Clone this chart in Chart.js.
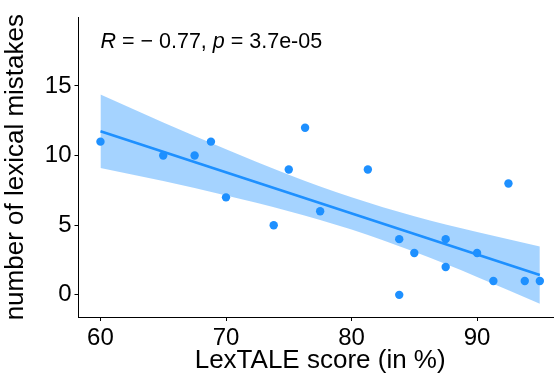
<!DOCTYPE html>
<html>
<head>
<meta charset="utf-8">
<script src="https://cdn.jsdelivr.net/npm/chart.js@4.4.1/dist/chart.umd.min.js"></script>
<style>
    html, body { margin: 0; padding: 0; background: #fff; overflow: hidden; }
    #wrap { width: 566px; height: 378px; }
</style>
</head>
<body>
<div id="wrap"><canvas id="lexChart" width="566" height="378"></canvas></div>
<script>

// ==========================================
// Data
// ==========================================

const lextaleScore = [60, 65, 67.5, 68.8, 70, 73.8, 75, 76.3, 77.5, 81.3,
                      83.8, 83.8, 85, 87.5, 87.5, 90, 91.3, 92.5, 93.8, 95];
const lexicalMistakes = [11, 10, 10, 11, 7, 5, 9, 12, 6, 9,
                         4, 0, 3, 4, 2, 3, 1, 8, 1, 1];

// fitted line ends
const fitX = [60, 95];
const fitY = [11.75, 1.42];

// 95% confidence band
const bandX = [60, 65, 70, 75, 80, 85, 90, 95];
const bandUpper = [14.38, 12.37, 10.45, 8.63, 7.01, 5.65, 4.51, 3.47];
const bandLower = [9.10, 8.17, 7.14, 6.01, 4.69, 3.09, 1.29, -0.63];

const xTicks = [60, 70, 80, 90];
const yTicks = [0, 5, 10, 15];

const corrR = "\u2212 0.77";
const corrP = "3.7e-05";
const corrLabelAt = [60, 18.94];

const FONT = "'Liberation Sans', Arial, sans-serif";
const BLUE = "#1e90ff";


function toPoints(xs, ys) {

    return xs.map((x, i) => ({ x: x, y: ys[i] }));

}


// ==========================================
// Correlation label
// ==========================================

const corrLabel = {

    id: "corrLabel",

    afterDatasetsDraw(chart) {

        const ctx = chart.ctx;
        let x = chart.scales.x.getPixelForValue(corrLabelAt[0]);
        const y = chart.scales.y.getPixelForValue(corrLabelAt[1]);

        const parts = [
            ["italic", "R"],
            ["normal", " = " + corrR + ", "],
            ["italic", "p"],
            ["normal", " = " + corrP]
        ];

        ctx.save();
        ctx.fillStyle = "#000";
        ctx.textBaseline = "top";
        ctx.textAlign = "left";

        parts.forEach(([style, text]) => {

            ctx.font = style + " 21.5px " + FONT;
            ctx.fillText(text, x, y);
            x += ctx.measureText(text).width;

        });

        ctx.restore();

    }

};


// ==========================================
// Chart
// ==========================================

function axisStyle(ticks, titleText) {

    return {

        type: "linear",

        afterBuildTicks: scale => {
            scale.ticks = ticks.map(v => ({ value: v }));
        },

        ticks: {
            color: "#000",
            font: { family: FONT, size: 24 },
            padding: 3
        },

        grid: {
            drawOnChartArea: false,
            drawTicks: true,
            tickLength: 4,
            color: "#000",
            lineWidth: 1
        },

        border: {
            display: true,
            color: "#000",
            width: 1
        },

        title: {
            display: true,
            text: titleText,
            color: "#000",
            font: { family: FONT, size: 26 },
            padding: { top: 0, bottom: 2 }
        }

    };

}

const xAxis = axisStyle(xTicks, "LexTALE score (in %)");
xAxis.min = 58.25;
xAxis.max = 96.75;
xAxis.afterFit = scale => { scale.height = 61; };

const yAxis = axisStyle(yTicks, "number of lexical mistakes");
yAxis.min = -1.59;
yAxis.max = 19.92;
yAxis.afterFit = scale => { scale.width = 78.5; };

new Chart(document.getElementById("lexChart"), {

    type: "scatter",

    data: {

        datasets: [

            {
                data: toPoints(lextaleScore, lexicalMistakes),
                backgroundColor: BLUE,
                borderWidth: 0,
                pointRadius: 4.2,
                order: 0
            },

            {
                data: toPoints(fitX, fitY),
                showLine: true,
                borderColor: BLUE,
                borderWidth: 2.6,
                pointRadius: 0,
                order: 1
            },

            {
                data: toPoints(bandX, bandLower),
                showLine: true,
                borderWidth: 0,
                pointRadius: 0,
                cubicInterpolationMode: "monotone",
                order: 3
            },

            {
                data: toPoints(bandX, bandUpper),
                showLine: true,
                borderWidth: 0,
                pointRadius: 0,
                cubicInterpolationMode: "monotone",
                backgroundColor: "rgba(30, 144, 255, 0.4)",
                fill: "-1",
                order: 2
            }

        ]

    },

    options: {

        responsive: false,
        animation: false,
        events: [],

        layout: {
            padding: { top: 14, right: 0, bottom: 0, left: 0 }
        },

        plugins: {
            legend: { display: false },
            tooltip: { enabled: false }
        },

        scales: {
            x: xAxis,
            y: yAxis
        }

    },

    plugins: [corrLabel]

});

</script>
</body>
</html>
